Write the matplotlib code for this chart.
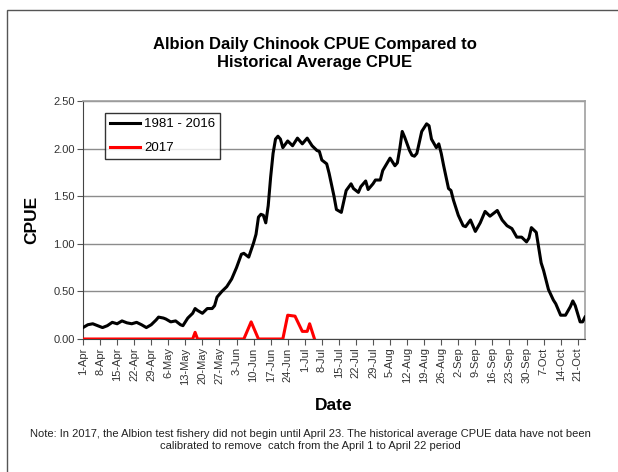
"""
Albion daily Chinook CPUE for 2017 against the 1981-2016 average.
Single panel line chart, saved to out.png.
"""

import datetime as dt
import matplotlib
matplotlib.use("Agg")
import matplotlib.pyplot as plt
from matplotlib.patches import Rectangle

plt.rcParams["font.family"] = ["Liberation Sans", "DejaVu Sans"]

# days counted from 1 April
hist_day = [0, 2, 4, 6, 8, 10, 12, 14, 16, 18, 20, 22, 24, 26, 28, 30, 31, 33, 34,
            36, 38, 40, 41, 43, 45, 46, 47, 49, 51, 53, 54, 55, 57, 59, 61, 63, 65,
            66, 68, 70, 71, 72, 73, 74, 75, 76, 77, 78, 79, 80, 81, 82, 84, 86, 88,
            90, 92, 94, 96, 97, 98, 100, 101, 103, 104, 106, 108, 110, 111, 113,
            114, 116, 117, 119, 120, 122, 123, 126, 128, 129, 130, 131, 132, 134,
            135, 136, 137, 139, 141, 142, 143, 145, 146, 147, 148, 150, 151, 152,
            154, 156, 157, 159, 161, 163, 165, 167, 170, 172, 174, 176, 178, 180,
            182, 183, 184, 186, 188, 189, 191, 193, 194, 196, 198, 200, 201, 202,
            204, 205, 206]
hist_cpue = [0.12, 0.15, 0.16, 0.14, 0.12, 0.14, 0.175, 0.16, 0.19, 0.17, 0.16, 0.175,
             0.15, 0.12, 0.15, 0.20, 0.23, 0.22, 0.21, 0.18, 0.19, 0.15, 0.14, 0.22,
             0.27, 0.32, 0.30, 0.27, 0.32, 0.32, 0.35, 0.44, 0.50, 0.55, 0.63, 0.75,
             0.89, 0.90, 0.86, 1.01, 1.10, 1.28, 1.31, 1.30, 1.22, 1.40, 1.70, 1.95,
             2.10, 2.13, 2.10, 2.01, 2.08, 2.03, 2.11, 2.05, 2.11, 2.03, 1.98, 1.97,
             1.88, 1.84, 1.74, 1.50, 1.36, 1.33, 1.56, 1.63, 1.58, 1.54, 1.60, 1.66,
             1.57, 1.63, 1.67, 1.67, 1.77, 1.90, 1.82, 1.85, 2.00, 2.18, 2.12, 1.98,
             1.93, 1.92, 1.95, 2.18, 2.26, 2.24, 2.10, 2.01, 2.05, 1.95, 1.82, 1.58,
             1.56, 1.46, 1.30, 1.19, 1.18, 1.25, 1.13, 1.22, 1.34, 1.29, 1.35, 1.25,
             1.19, 1.16, 1.07, 1.07, 1.02, 1.06, 1.17, 1.12, 0.80, 0.72, 0.52, 0.41,
             0.37, 0.25, 0.25, 0.34, 0.40, 0.35, 0.18, 0.18, 0.23]

y2017_day = [0, 45, 46, 47, 66, 69, 72, 82, 84, 87, 90, 92, 93, 95]
y2017_cpue = [0, 0, 0.07, 0, 0, 0.18, 0, 0, 0.25, 0.24, 0.08, 0.08, 0.16, 0]

start = dt.date(2017, 4, 1)
tick_days = list(range(0, 204, 7))
tick_labels = [f"{(start + dt.timedelta(d)).day}-{(start + dt.timedelta(d)).strftime('%b')}"
               for d in tick_days]

W, H = 618, 472
fig = plt.figure(figsize=(W / 100, H / 100), dpi=100)
ax = fig.add_axes([83 / W, 1 - 339 / H, (585 - 83) / W, (339 - 101) / H])

ax.plot(hist_day, hist_cpue, color="black", lw=2.2, label="1981 - 2016", zorder=3)
ax.plot(y2017_day, y2017_cpue, color="red", lw=2.2, label="2017", zorder=4)

ax.set_xlim(0, 206)
ax.set_ylim(0, 2.5)
ax.set_yticks([0, 0.5, 1.0, 1.5, 2.0, 2.5])
ax.set_yticklabels([f"{v:.2f}" for v in ax.get_yticks()], fontsize=8, color="#333333")
ax.set_xticks(tick_days)
ax.set_xticklabels(tick_labels, rotation=90, fontsize=8, color="#333333")
ax.tick_params(axis="both", direction="out", length=4, width=0.8, color="#555555", pad=2)

ax.grid(axis="y", color="#8c8c8c", lw=1.0)
ax.set_axisbelow(True)
for side in ("top", "right"):
    ax.spines[side].set_color("#a0a0a0")
    ax.spines[side].set_linewidth(1.2)
for side in ("left", "bottom"):
    ax.spines[side].set_color("#444444")

ax.set_xlabel("Date", fontsize=12.5, fontweight="bold", labelpad=10)
ax.set_ylabel("CPUE", fontsize=12.5, fontweight="bold", labelpad=10)

leg = ax.legend(loc="upper left", bbox_to_anchor=(0.036, 0.965), fontsize=9.5,
                frameon=True, fancybox=False, edgecolor="black", handlelength=2.3,
                borderpad=0.35, labelspacing=0.9, handletextpad=0.3, borderaxespad=0.3)
leg.get_frame().set_linewidth(1.0)

fig.text(315 / W, 1 - 54 / H, "Albion Daily Chinook CPUE Compared to\nHistorical Average CPUE",
         ha="center", va="center", fontsize=12, fontweight="bold", linespacing=1.25)
fig.text(310 / W, 1 - 440 / H,
         "Note: In 2017, the Albion test fishery did not begin until April 23. The historical "
         "average CPUE data have not been\ncalibrated to remove  catch from the April 1 to "
         "April 22 period",
         ha="center", va="center", fontsize=8, color="#222222", linespacing=1.3)

# outer chart frame, cut off by the image on the right and bottom
fig.patches.append(Rectangle((7 / W, -0.2), 2, 1 - 10 / H + 0.2, transform=fig.transFigure,
                             fill=False, edgecolor="#555555", lw=1.0))

fig.savefig("out.png", dpi=100)
